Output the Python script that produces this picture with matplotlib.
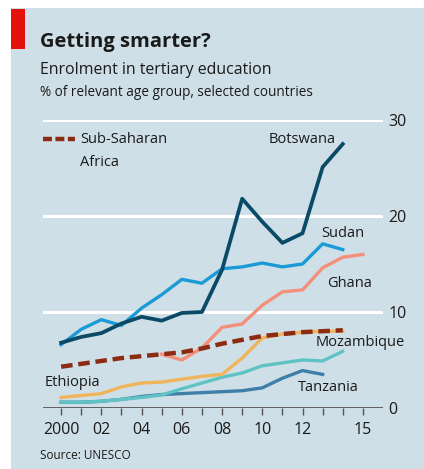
import matplotlib
matplotlib.use("Agg")
import matplotlib.pyplot as plt
from matplotlib.patches import Rectangle

plt.rcParams['font.family'] = ['Open Sans', 'DejaVu Sans']

# data, % of relevant age group
years = list(range(2000, 2015))
botswana = [6.8, 7.4, 7.8, 8.8, 9.5, 9.1, 9.9, 10.0, 14.4, 21.8, 19.4, 17.2, 18.2, 25.1, 27.5]
sudan = [6.6, 8.2, 9.2, 8.6, 10.4, 11.8, 13.4, 13.0, 14.5, 14.7, 15.1, 14.7, 15.0, 17.1, 16.5]
ghana_years = list(range(2005, 2016))
ghana = [5.6, 5.0, 6.25, 8.4, 8.75, 10.7, 12.1, 12.3, 14.6, 15.7, 16.0]
ssa = [4.3, 4.6, 4.9, 5.2, 5.4, 5.6, 5.8, 6.2, 6.7, 7.1, 7.5, 7.7, 7.9, 8.0, 8.1]
ethiopia = [1.1, 1.3, 1.5, 2.2, 2.6, 2.7, 3.0, 3.3, 3.5, 5.2, 7.3, 7.7, 7.9, 8.0, 8.0]
mozambique = [0.6, 0.6, 0.7, 0.9, 1.1, 1.35, 2.0, 2.6, 3.2, 3.65, 4.4, 4.7, 5.0, 4.9, 5.9]
tz_years = list(range(2000, 2014))
tanzania = [0.6, 0.6, 0.7, 0.9, 1.2, 1.4, 1.5, 1.6, 1.7, 1.8, 2.1, 3.1, 3.9, 3.5]

xticks = list(range(2000, 2016))
xlabels = ['2000', '', '02', '', '04', '', '06', '', '08', '', '10', '', '12', '', '', '15']
yticks = [0, 10, 20, 30]

bg = '#cfdfe8'
W, H = 424, 469
fig = plt.figure(figsize=(W / 100, H / 100), dpi=100)
fig.patch.set_facecolor('white')
fig.patches.append(Rectangle((11 / W, 0), 1, 1 - 8 / H, transform=fig.transFigure,
                             facecolor=bg, edgecolor='none', zorder=-2))
fig.patches.append(Rectangle((11 / W, 1 - 49 / H), 14 / W, 40 / H, transform=fig.transFigure,
                             facecolor='#e3120b', edgecolor='none', zorder=-1))

fig.text(40 / W, 1 - 42 / H, 'Getting smarter?', fontsize=14.5, fontweight='bold',
         color='#1a1a1a', va='center')
fig.text(40 / W, 1 - 70 / H, 'Enrolment in tertiary education', fontsize=11.4,
         color='#1a1a1a', va='center')
fig.text(40 / W, 1 - 92 / H, '% of relevant age group, selected countries', fontsize=9.8,
         color='#1a1a1a', va='center')
fig.text(40 / W, 1 - 455 / H, 'Source: UNESCO', fontsize=8.5, color='#1a1a1a', va='center')

ax = fig.add_axes([43 / W, 1 - 408 / H, 340 / W, 288 / H])
ax.set_facecolor('none')
ax.set_xlim(1999.1, 2016.0)
ax.set_ylim(0, 30)
for s in ax.spines.values():
    s.set_visible(False)

for v in yticks[1:]:
    ax.axhline(v, color='white', lw=2.2, zorder=1)
ax.axhline(0, color='#555555', lw=1.3, zorder=2)

ax.yaxis.tick_right()
ax.set_yticks(yticks)
ax.set_yticklabels([str(v) for v in yticks])
ax.tick_params(axis='y', length=0, pad=4, labelsize=11.5, labelcolor='#1a1a1a')
ax.set_xticks(xticks)
ax.set_xticklabels(xlabels)
ax.tick_params(axis='x', length=5, width=1, color='#555555', pad=5, labelsize=11.5,
               labelcolor='#1a1a1a')

ax.plot(tz_years, tanzania, color='#3e7fa8', lw=2.4, zorder=3)
ax.plot(years, mozambique, color='#5fc3c4', lw=2.4, zorder=3)
ax.plot(years, ethiopia, color='#f0b55a', lw=2.4, zorder=3)
ax.plot(ghana_years, ghana, color='#f4907a', lw=2.4, zorder=3)
ax.plot(years, ssa, color='#8c2a12', lw=3.2, ls=(0, (2.6, 1.3)), zorder=4)
ax.plot(years, sudan, color='#1a9ad6', lw=2.4, zorder=5)
ax.plot(years, botswana, color='#0b4a66', lw=2.7, zorder=6, clip_on=False)

# legend sample
ax.plot([1999.1, 2000.7], [28.0, 28.0], color='#8c2a12', lw=3.2, ls=(0, (2.0, 0.8)),
        clip_on=False)

lab = dict(fontsize=10.5, color='#1a1a1a', va='center')
ax.text(2000.95, 28.0, 'Sub-Saharan', **lab)
ax.text(2000.95, 25.6, 'Africa', **lab)
ax.text(2010.3, 28.0, 'Botswana', **lab)
ax.text(2012.95, 18.2, 'Sudan', **lab)
ax.text(2013.2, 13.0, 'Ghana', **lab)
ax.text(2012.65, 6.8, 'Mozambique', **lab)
ax.text(1999.2, 2.7, 'Ethiopia', **lab)
ax.text(2011.75, 2.1, 'Tanzania', **lab)

fig.savefig('out.png', dpi=100, facecolor='white')
